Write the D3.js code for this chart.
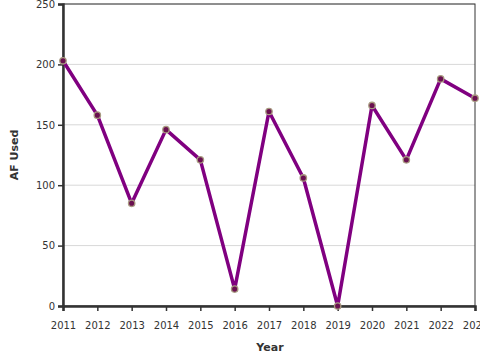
<!DOCTYPE html>
<html><head><meta charset="utf-8">
<script src="https://cdn.jsdelivr.net/npm/d3@7"></script>
<style>body{margin:0;background:#fff;}svg{display:block;font-family:"DejaVu Sans",sans-serif;}</style>
</head><body>
<script>
const years = [2011,2012,2013,2014,2015,2016,2017,2018,2019,2020,2021,2022,2023];
const afUsed = [203,158,85,146,121,14,161,106,0,166,121,188,172];
const yTicks = [0,50,100,150,200,250];

const W=480,H=360,m={top:4,right:5,bottom:54,left:63};
const svg=d3.select("body").append("svg").attr("width",W).attr("height",H);
const x=d3.scaleLinear().domain([2011,2023]).range([m.left,W-m.right]);
const y=d3.scaleLinear().domain([0,250]).range([H-m.bottom,m.top]);

svg.append("g").selectAll("line").data(yTicks).join("line")
  .attr("x1",m.left).attr("x2",W-m.right).attr("y1",d=>y(d)).attr("y2",d=>y(d))
  .attr("stroke","#d8d8d8").attr("stroke-width",1);

svg.append("rect").attr("x",m.left).attr("y",m.top).attr("width",W-m.right-m.left).attr("height",H-m.bottom-m.top)
  .attr("fill","none").attr("stroke","#333").attr("stroke-width",1);

const gx=svg.append("g").attr("transform",`translate(0,${H-m.bottom})`)
  .call(d3.axisBottom(x).tickValues(years).tickFormat(d3.format("d")).tickSize(5));
const gy=svg.append("g").attr("transform",`translate(${m.left},0)`)
  .call(d3.axisLeft(y).tickValues(yTicks).tickSize(5));
[gx,gy].forEach(g=>{
  g.select(".domain").attr("stroke","#333").attr("stroke-width",2.5);
  g.selectAll(".tick line").attr("stroke","#333").attr("stroke-width",1.5);
  g.selectAll(".tick text").attr("fill","#333").attr("font-size",10).attr("font-family","DejaVu Sans");
});
gx.selectAll(".tick text").attr("dy","1.5em");

const data=years.map((yr,i)=>({yr,v:afUsed[i]}));
svg.append("path").datum(data).attr("fill","none").attr("stroke","#800080").attr("stroke-width",3.5)
  .attr("stroke-linejoin","round")
  .attr("d",d3.line().x(d=>x(d.yr)).y(d=>y(d.v)));
svg.append("g").selectAll("circle").data(data).join("circle")
  .attr("cx",d=>x(d.yr)).attr("cy",d=>y(d.v)).attr("r",3.2)
  .attr("fill","#6a1050").attr("stroke","#a89a80").attr("stroke-width",1.3);

svg.append("text").attr("x",270).attr("y",351).attr("text-anchor","middle")
  .attr("font-size",11).attr("font-weight","bold").attr("fill","#333").text("Year");
svg.append("text").attr("transform","translate(18,155) rotate(-90)").attr("text-anchor","middle")
  .attr("font-size",11).attr("font-weight","bold").attr("fill","#333").text("AF Used");
</script>
</body></html>
